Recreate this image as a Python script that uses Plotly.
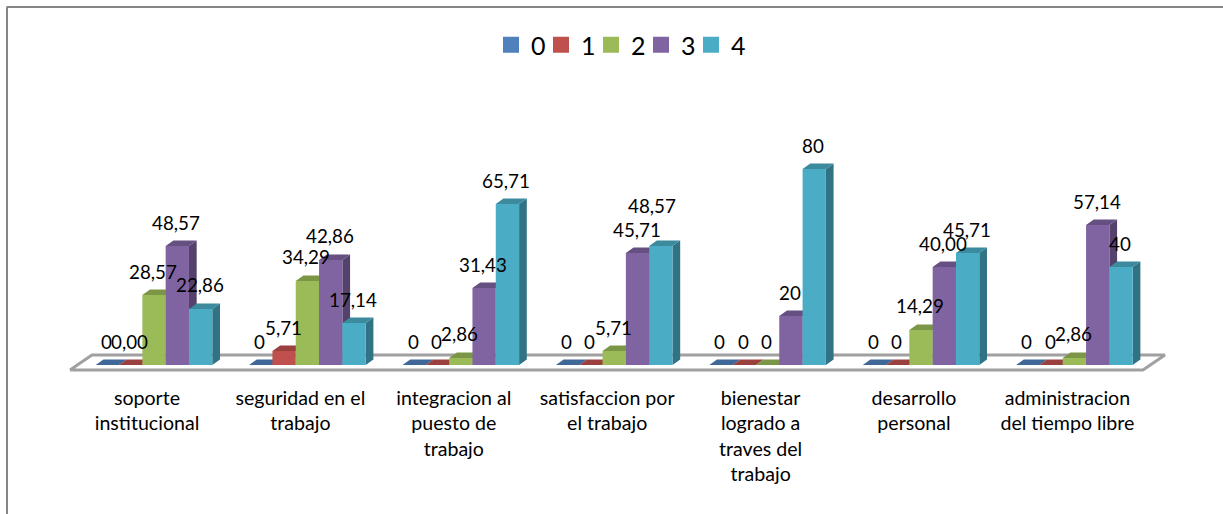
import plotly.graph_objects as go

categories = ["soporte<br>institucional", "seguridad en el<br>trabajo", "integracion al<br>puesto de<br>trabajo",
              "satisfaccion por<br>el trabajo", "bienestar<br>logrado a<br>traves del<br>trabajo",
              "desarrollo<br>personal", "administracion<br>del tiempo libre"]
series_names = ["0", "1", "2", "3", "4"]
s0 = [0, 0, 0, 0, 0, 0, 0]
s1 = [0, 5.71, 0, 0, 0, 0, 0]
s2 = [28.57, 34.29, 2.86, 5.71, 0, 14.29, 2.86]
s3 = [48.57, 42.86, 31.43, 45.71, 20, 40, 57.14]
s4 = [22.86, 17.14, 65.71, 48.57, 80, 45.71, 40]
l0 = ["0", "0", "0", "0", "0", "0", "0"]
l1 = ["0,00", "5,71", "0", "0", "0", "0", "0"]
l2 = ["28,57", "34,29", "2,86", "5,71", "0", "14,29", "2,86"]
l3 = ["48,57", "42,86", "31,43", "45,71", "20", "40,00", "57,14"]
l4 = ["22,86", "17,14", "65,71", "48,57", "80", "45,71", "40"]
front = ["#4f81bd", "#c0504d", "#9bbb59", "#8064a2", "#4bacc6"]
top = ["#3f6797", "#9a403e", "#7c9647", "#665082", "#3c8a9e"]
side = ["#34557d", "#7f3533", "#677c3b", "#54426c", "#317284"]

values = [s0, s1, s2, s3, s4]
labels = [l0, l1, l2, l3, l4]
W, H, PLOT_B = 1223, 514, 375
PX_X, PX_Y = 153.4, 2.45
X0_PX, Y0_PX = 154, 365
xr = [(0 - X0_PX) / PX_X, (W - X0_PX) / PX_X]
yr = [(Y0_PX - PLOT_B) / PX_Y, Y0_PX / PX_Y]
bar_w = 0.152
DX, DY = 7.7 / PX_X, 5.5 / PX_Y
FONT = "Lato"
LABEL_SIZE = 18.8
CATEGORY_SIZE = 19.6

fig = go.Figure()
n = len(categories)
idx = list(range(n))

# floor
fx = [-0.5475, n - 1 + 0.447, n - 1 + 0.447 + 0.143, -0.5475 + 0.143, -0.5475]
fy = [-2.04, -2.04, 4.08, 4.08, -2.04]
fig.add_trace(go.Scatter(x=fx, y=fy, mode="lines", line=dict(color="#a0a0a0", width=3), fill="toself",
                         fillcolor="white", showlegend=False, hoverinfo="skip"))

# depth faces
for k, vals in enumerate(values):
    sx, sy, tx, ty = [], [], [], []
    for i, v in enumerate(vals):
        l = i + (k - 2.5) * bar_w
        r = l + bar_w
        sx += [r, r + DX, r + DX, r, r, None]
        sy += [0, DY, v + DY, v, 0, None]
        tx += [l, r, r + DX, l + DX, l, None]
        ty += [v, v, v + DY, v + DY, v, None]
    fig.add_trace(go.Scatter(x=sx, y=sy, mode="lines", line=dict(width=0), fill="toself", fillcolor=side[k],
                             showlegend=False, hoverinfo="skip"))
    fig.add_trace(go.Scatter(x=tx, y=ty, mode="lines", line=dict(width=0), fill="toself", fillcolor=top[k],
                             showlegend=False, hoverinfo="skip"))

# front faces
for k, vals in enumerate(values):
    fig.add_trace(go.Bar(x=idx, y=vals, name=series_names[k], marker=dict(color=front[k], line=dict(width=0)),
                         xaxis="x2", yaxis="y2", showlegend=False))

# legend: one small legend per series, to keep the original's tight even spacing
legends = {}
for k, name in enumerate(series_names):
    key = "legend" if k == 0 else f"legend{k + 1}"
    fig.add_trace(go.Scatter(x=[None], y=[None], mode="markers", name=name, legend=key,
                             marker=dict(symbol="square", size=16, color=front[k])))
    legends[key] = dict(orientation="h", x=(491 + 50 * k) / W, y=1 - 22 / PLOT_B, xanchor="left", yanchor="top",
                        font=dict(family=FONT, size=25, color="black"), bgcolor="rgba(0,0,0,0)")

# one label was moved aside in the original to clear its neighbour
label_nudge = {(4, 3): (-8, 17)}
for k, labs in enumerate(labels):
    for i, t in enumerate(labs):
        nx, ny = label_nudge.get((k, i), (0, 0))
        fig.add_annotation(x=i + (k - 2) * bar_w, y=values[k][i], xref="x", yref="y", text=t, showarrow=False,
                           xshift=-1 + nx, yshift=24 + ny, yanchor="middle", xanchor="center",
                           font=dict(family=FONT, size=LABEL_SIZE, color="black"))

axis_common = dict(showgrid=False, zeroline=False, showline=False)
fig.update_layout(
    width=W, height=H, margin=dict(l=0, r=0, t=0, b=H - PLOT_B, pad=0),
    paper_bgcolor="white", plot_bgcolor="rgba(0,0,0,0)",
    barmode="group", bargap=0.24, bargroupgap=0,
    font=dict(family=FONT, color="black"),
    xaxis=dict(range=xr, tickmode="array", tickvals=idx, ticktext=categories, ticks="",
               tickangle=0, ticklabelstandoff=9, ticklabelshift=-7,
               tickfont=dict(family=FONT, size=CATEGORY_SIZE, color="black"), **axis_common),
    yaxis=dict(range=yr, showticklabels=False, ticks="", **axis_common),
    xaxis2=dict(range=xr, overlaying="x", showticklabels=False, ticks="", **axis_common),
    yaxis2=dict(range=yr, overlaying="y", showticklabels=False, ticks="", **axis_common),
    shapes=[
        dict(type="line", xref="paper", yref="paper", x0=6.5 / W, x1=1, y0=1 - 7 / PLOT_B, y1=1 - 7 / PLOT_B,
             line=dict(color="#868686", width=2)),
        dict(type="line", xref="paper", yref="paper", x0=7 / W, x1=7 / W, y0=1 - 7 / PLOT_B, y1=1 - H / PLOT_B,
             line=dict(color="#868686", width=2)),
    ],
    **legends,
)
fig.write_html("out.html", post_script="document.body.style.margin='0';document.body.style.overflow='hidden';",
               config={"displayModeBar": False})
